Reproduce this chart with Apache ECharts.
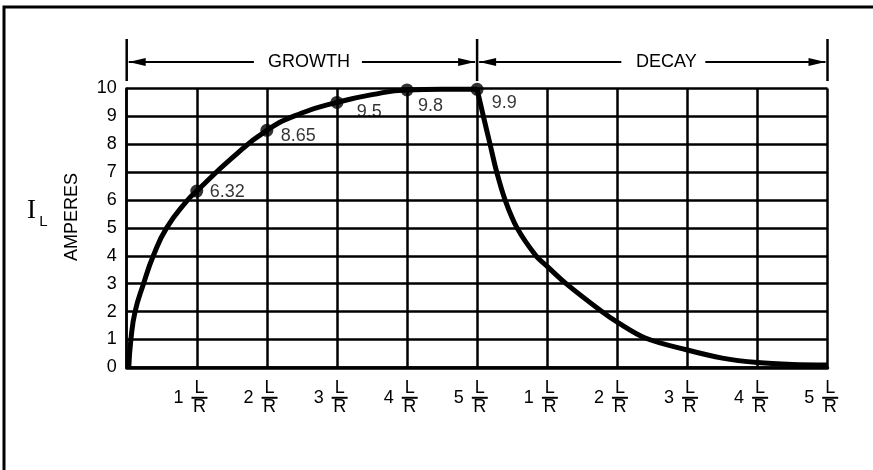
<!DOCTYPE html>
<html><head><meta charset="utf-8">
<script src="https://cdn.jsdelivr.net/npm/echarts@6.0.0/dist/echarts.min.js"></script>
<style>html,body{margin:0;padding:0;background:#fff}#c{width:873px;height:470px}</style>
</head><body><div id="c"></div>
<script>
// Time in time-constants (0-5 growth, 5-10 decay), current in amperes
const growthT = [0.03, 0.06, 0.12, 0.24, 0.38, 0.57, 0.87, 1.0, 1.5, 2.0, 2.5, 3.0, 3.5, 4.0, 4.5, 5.0];
const growthI = [0, 1, 2, 3, 4, 5, 6, 6.32, 7.5, 8.5, 9.12, 9.5, 9.78, 9.95, 9.97, 9.97];
const decayT = [5.0, 5.09, 5.185, 5.28, 5.40, 5.57, 5.84, 6.0, 6.27, 6.78, 7.0, 7.4, 8.0, 8.5, 9.0, 9.5, 10.0];
const decayI = [9.97, 9, 8, 7, 6, 5, 4, 3.62, 3, 2, 1.62, 1.05, 0.62, 0.33, 0.17, 0.1, 0.08];
const markT = [1, 2, 3, 4, 5];
const markI = [6.32, 8.5, 9.5, 9.95, 9.97];
const markLabels = ['6.32', '8.65', '9.5', '9.8', '9.9'];
const xTickLabels = ['', '1', '2', '3', '4', '5', '1', '2', '3', '4', '5'];
const phaseLabels = ['GROWTH', 'DECAY'];
const yName = 'AMPERES';

const FONT = '"Liberation Sans", Arial, sans-serif';
const labelOffsets = [[6.5, 0.6], [7.4, 5.7], [13.2, 9.3], [4.5, 16], [8.2, 13.4]];

const chart = echarts.init(document.getElementById('c'), null, {renderer: 'canvas'});
const zip = (a, b) => a.map((v, i) => [v, b[i]]);

const option = {
  backgroundColor: '#fff',
  animation: false,
  grid: {left: 126.7, right: 45.5, top: 88.5, bottom: 102.7, containLabel: false},
  xAxis: {
    type: 'value', min: 0, max: 10, interval: 1,
    axisLine: {show: true, lineStyle: {color: '#000', width: 3.5}},
    axisTick: {show: false},
    splitLine: {show: true, lineStyle: {color: '#000', width: 2.5}},
    axisLabel: {
      margin: 14,
      formatter: v => {
        const t = xTickLabels[Math.round(v)];
        if (!t) return '';
        return '{sp|}{l|L}{e|}\n{n|' + t + '}{g|}{bar|}{e2|}\n{sp|}{l|R}{e|}';
      },
      rich: {
        sp: {width: 19, lineHeight: 14},
        l: {width: 16, align: 'center', fontSize: 18, fontFamily: FONT, color: '#000', lineHeight: 14},
        e: {width: 13.6, lineHeight: 14},
        n: {width: 12, align: 'center', fontSize: 18, fontFamily: FONT, color: '#000', lineHeight: 5},
        g: {width: 7, lineHeight: 5},
        bar: {width: 16, height: 2, backgroundColor: '#000', lineHeight: 5},
        e2: {width: 13.6, lineHeight: 5}
      }
    }
  },
  yAxis: {
    type: 'value', min: 0, max: 10, interval: 1,
    axisLine: {show: true, lineStyle: {color: '#000', width: 2.5}},
    axisTick: {show: false},
    splitLine: {show: true, lineStyle: {color: '#000', width: 2.5}},
    axisLabel: {margin: 10, fontSize: 18, fontFamily: FONT, color: '#000'}
  },
  series: [
    {type: 'line', data: zip(growthT, growthI), smooth: 0.5, symbol: 'none',
     lineStyle: {color: '#000', width: 5}, z: 5},
    {type: 'line', data: zip(decayT, decayI), smooth: 0.35, symbol: 'none',
     lineStyle: {color: '#000', width: 5}, z: 5},
    {type: 'scatter', data: zip(markT, markI), symbol: 'circle', symbolSize: 13,
     itemStyle: {color: '#000'}, z: 6,
     label: {show: true, position: 'right', distance: 0, fontSize: 18, fontFamily: FONT, color: '#000',
       formatter: p => markLabels[p.dataIndex]},
     labelLayout: p => ({dx: labelOffsets[p.dataIndex][0], dy: labelOffsets[p.dataIndex][1]})
    }
  ]
};
chart.setOption(option);

const px = v => chart.convertToPixel({xAxisIndex: 0}, v);
const yA = 62, yTop = 39, yBot = 81;
const x0 = px(0), x5 = px(5), x10 = px(10);
const gC = px(2.6), dC = px(7.7);
const g = [];
const lineStyle = {stroke: '#000', lineWidth: 2};
function hline(a, b) { g.push({type: 'line', shape: {x1: a, y1: yA, x2: b, y2: yA}, style: lineStyle}); }
function vline(x) { g.push({type: 'line', shape: {x1: x, y1: yTop, x2: x, y2: yBot}, style: {stroke: '#000', lineWidth: 2.5}}); }
function head(tip, dir) {
  g.push({type: 'polygon', shape: {points: [[tip, yA], [tip - dir * 17, yA - 4], [tip - dir * 17, yA + 4]]}, style: {fill: '#000'}});
}
function text(x, y, s, extra) {
  g.push(Object.assign({type: 'text', x: x, y: y, style: {text: s, fontSize: 18, fontFamily: FONT, fill: '#000', align: 'center', verticalAlign: 'middle'}}, extra || {}));
}
vline(x0); vline(x5); vline(x10);
hline(x0 + 2, gC - 55); head(x0 + 2, -1);
hline(gC + 53, x5 - 2); head(x5 - 2, 1);
hline(x5 + 2, dC - 45); head(x5 + 2, -1);
hline(dC + 39, x10 - 2); head(x10 - 2, 1);
text(gC, yA, phaseLabels[0]);
text(dC, yA, phaseLabels[1]);
// y-axis title
text(72, 217, yName, {rotation: Math.PI / 2});
g.push({type: 'text', x: 31.5, y: 211, style: {text: 'I', fontSize: 27, fontFamily: '"Liberation Serif", "Times New Roman", serif', fill: '#000', align: 'center', verticalAlign: 'middle'}});
g.push({type: 'text', x: 43.5, y: 222, style: {text: 'L', fontSize: 15, fontFamily: FONT, fill: '#000', align: 'center', verticalAlign: 'middle'}});
// outer frame
g.push({type: 'polyline', shape: {points: [[4, 480], [4, 7], [880, 7]]}, style: {stroke: '#000', lineWidth: 3, fill: null}});
chart.setOption({graphic: g});
</script></body></html>
